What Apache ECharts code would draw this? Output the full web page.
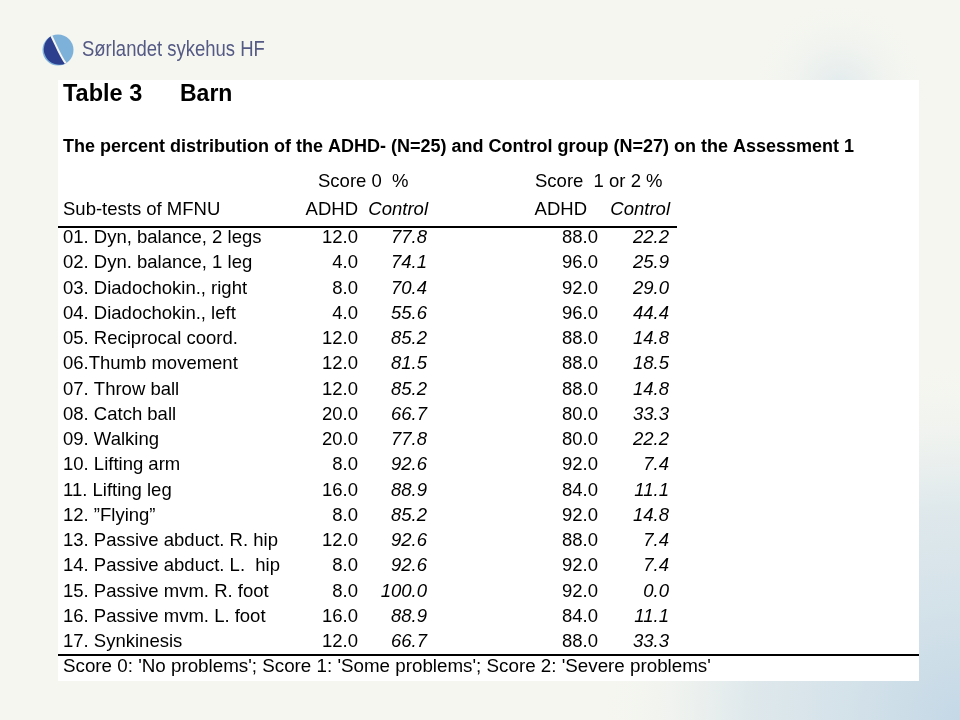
<!DOCTYPE html>
<html>
<head>
<meta charset="utf-8">
<script src="https://cdn.jsdelivr.net/npm/echarts@6/dist/echarts.min.js"></script>
<style>html,body{margin:0;padding:0;background:#f5f6f0}#c{width:960px;height:720px}</style>
</head>
<body>
<div id="c"></div>
<script>
// ---- data ----
var rowLabels = [
  "01. Dyn, balance, 2 legs",
  "02. Dyn. balance, 1 leg",
  "03. Diadochokin., right",
  "04. Diadochokin., left",
  "05. Reciprocal coord.",
  "06.Thumb movement",
  "07. Throw ball",
  "08. Catch ball",
  "09. Walking",
  "10. Lifting arm",
  "11. Lifting leg",
  "12. \u201DFlying\u201D",
  "13. Passive abduct. R. hip",
  "14. Passive abduct. L.  hip",
  "15. Passive mvm. R. foot",
  "16. Passive mvm. L. foot",
  "17. Synkinesis"
];
var score0Adhd    = [12.0, 4.0, 8.0, 4.0, 12.0, 12.0, 12.0, 20.0, 20.0, 8.0, 16.0, 8.0, 12.0, 8.0, 8.0, 16.0, 12.0];
var score0Control = [77.8, 74.1, 70.4, 55.6, 85.2, 81.5, 85.2, 66.7, 77.8, 92.6, 88.9, 85.2, 92.6, 92.6, 100.0, 88.9, 66.7];
var score12Adhd    = [88.0, 96.0, 92.0, 96.0, 88.0, 88.0, 88.0, 80.0, 80.0, 92.0, 84.0, 92.0, 88.0, 92.0, 92.0, 84.0, 88.0];
var score12Control = [22.2, 25.9, 29.0, 44.4, 14.8, 18.5, 14.8, 33.3, 22.2, 7.4, 11.1, 14.8, 7.4, 7.4, 0.0, 11.1, 33.3];
var groupHeaders = ["Score 0  %", "Score  1 or 2 %"];
var colHeaders = ["ADHD", "Control", "ADHD", "Control"];
var firstHeader = "Sub-tests of MFNU";
var tableTitle = ["Table 3", "Barn"];
var subtitle = "The percent distribution of the ADHD- (N=25) and Control group (N=27) on the Assessment 1";
var footnote = "Score 0: 'No problems'; Score 1: 'Some problems'; Score 2: 'Severe problems'";
var logoText = "S\u00F8rlandet sykehus HF";

// ---- layout ----
var FONT = "'Liberation Sans', Arial, sans-serif";
var FS = 18.5;
var colX = [300, 369, 540, 611]; // right edges, offsets inside grid
var labelX = 5;

var logoOk = false;
try {
  echarts.graphic.registerShape('logoDark', echarts.graphic.extendPath('M51.45,35.95 A15.5,15.5 0 0 0 65.75,63.4 C60,56 56,45 51.45,35.95 Z', {}));
  logoOk = true;
} catch (e) { logoOk = false; }

function numSeries(vals, x, italic) {
  return {
    type: 'scatter', symbolSize: 0, itemStyle: {color: '#000', opacity: 1}, silent: true,
    data: vals.map(function (v, i) { return [x, rowLabels[i], v]; }),
    label: {
      show: true, position: 'left', distance: 0, opacity: 1,
      formatter: function (p) { return p.value[2].toFixed(1); },
      fontFamily: FONT, fontSize: FS, color: '#000', fontStyle: italic ? 'italic' : 'normal'
    }
  };
}

var chart = echarts.init(document.getElementById('c'), null, {renderer: 'canvas'});
var T = function (o) { o.type = 'text'; o.silent = true; return o; };
var graphics = [
    {type: 'rect', silent: true, z: -10, shape: {x: 0, y: 0, width: 960, height: 720},
      style: {fill: {type: 'radial', x: 1.0, y: 1.0, r: 0.5, colorStops: [
        {offset: 0, color: 'rgba(196,216,230,1)'}, {offset: 0.6, color: 'rgba(214,227,234,0.7)'}, {offset: 1, color: 'rgba(245,246,240,0)'}]}}},
    {type: 'rect', silent: true, z: -9, shape: {x: 720, y: 0, width: 240, height: 180},
      style: {fill: {type: 'radial', x: 0.5, y: 0.5, r: 0.5, colorStops: [
        {offset: 0, color: 'rgba(222,232,236,0.9)'}, {offset: 1, color: 'rgba(245,246,240,0)'}]}}},
    {type: 'rect', silent: true, z: -5, shape: {x: 58, y: 80, width: 861, height: 601}, style: {fill: '#ffffff'}},
    // logo
    {type: 'circle', silent: true, z: 1, shape: {cx: 58, cy: 50, r: 15.5}, style: {fill: '#7eb1da'}},
    T({x: 82, y: 50, scaleX: 0.84, style: {text: logoText, font: "22px 'Liberation Sans', sans-serif", fill: '#555a85', textVerticalAlign: 'middle', textAlign: 'left'}}),
    // titles
    T({x: 63, y: 95, style: {text: tableTitle[0], font: "bold 23.5px " + FONT, fill: '#000', textVerticalAlign: 'middle'}}),
    T({x: 180, y: 95, style: {text: tableTitle[1], font: "bold 23px " + FONT, fill: '#000', textVerticalAlign: 'middle'}}),
    T({x: 63, y: 147, style: {text: subtitle, font: "bold 18px " + FONT, fill: '#000', textVerticalAlign: 'middle'}}),
    // headers
    T({x: 318, y: 182, style: {text: groupHeaders[0], font: FS + "px " + FONT, fill: '#000', textVerticalAlign: 'middle'}}),
    T({x: 535, y: 182, style: {text: groupHeaders[1], font: FS + "px " + FONT, fill: '#000', textVerticalAlign: 'middle'}}),
    T({x: 63, y: 210, style: {text: firstHeader, font: FS + "px " + FONT, fill: '#000', textVerticalAlign: 'middle'}}),
    T({x: 58 + colX[0], y: 210, style: {text: colHeaders[0], font: FS + "px " + FONT, fill: '#000', textVerticalAlign: 'middle', textAlign: 'right'}}),
    T({x: 58 + colX[1] + 1, y: 210, style: {text: colHeaders[1], font: "italic " + FS + "px " + FONT, fill: '#000', textVerticalAlign: 'middle', textAlign: 'right'}}),
    T({x: 58 + colX[2] - 11, y: 210, style: {text: colHeaders[2], font: FS + "px " + FONT, fill: '#000', textVerticalAlign: 'middle', textAlign: 'right'}}),
    T({x: 58 + colX[3] + 1, y: 210, style: {text: colHeaders[3], font: "italic " + FS + "px " + FONT, fill: '#000', textVerticalAlign: 'middle', textAlign: 'right'}}),
    // rules
    {type: 'line', silent: true, shape: {x1: 58, y1: 227, x2: 677, y2: 227}, style: {stroke: '#000', lineWidth: 2}},
    {type: 'line', silent: true, shape: {x1: 58, y1: 655, x2: 919, y2: 655}, style: {stroke: '#000', lineWidth: 2}},
    T({x: 63, y: 667, style: {text: footnote, font: "18.8px " + FONT, fill: '#000', textVerticalAlign: 'middle'}})
];
if (logoOk) {
  graphics.push({type: 'logoDark', silent: true, z: 2, style: {fill: '#2c3f8f'}});
}
graphics.push({type: 'bezierCurve', silent: true, z: 3,
  shape: {x1: 51.45, y1: 35.95, cpx1: 56, cpy1: 45, cpx2: 60, cpy2: 56, x2: 65.75, y2: 63.4},
  style: {stroke: '#f5f6f0', lineWidth: 2, fill: null}});

chart.setOption({
  backgroundColor: '#f5f6f0',
  animation: false,
  grid: {left: 58, top: 225.5, width: 861, height: 429},
  xAxis: {type: 'value', min: 0, max: 861, show: false},
  yAxis: {type: 'category', data: rowLabels, inverse: true, show: false},
  graphic: graphics,
  series: [
    {
      type: 'scatter', symbolSize: 0, itemStyle: {color: '#000', opacity: 1}, silent: true,
      data: rowLabels.map(function (l) { return [labelX, l]; }),
      label: {show: true, position: 'right', distance: 0, opacity: 1, formatter: function (p) { return p.value[1]; },
        fontFamily: FONT, fontSize: FS, color: '#000'}
    },
    numSeries(score0Adhd, colX[0], false),
    numSeries(score0Control, colX[1], true),
    numSeries(score12Adhd, colX[2], false),
    numSeries(score12Control, colX[3], true)
  ]
});
</script>
</body>
</html>
